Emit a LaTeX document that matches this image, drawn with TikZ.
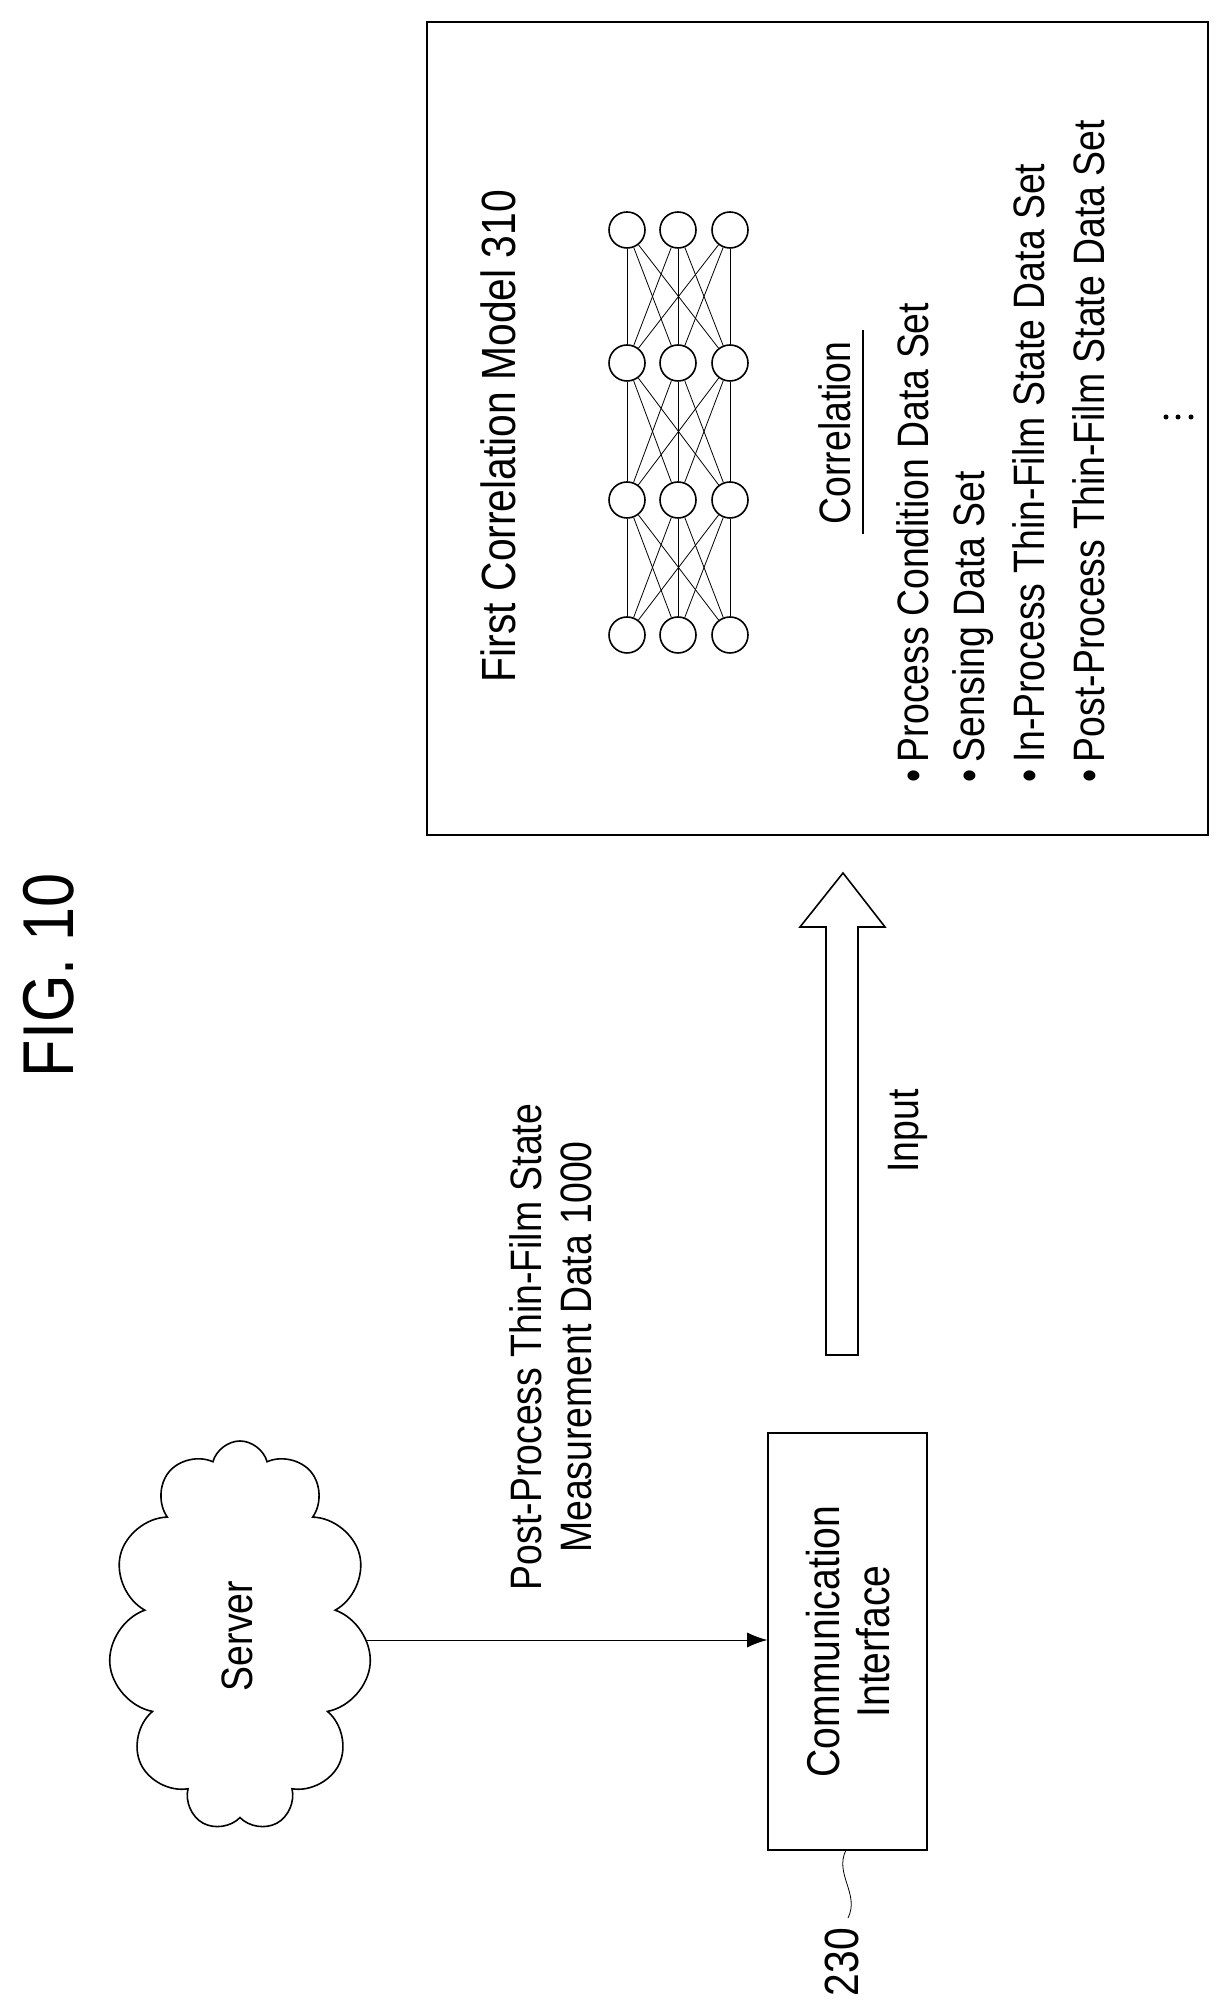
\documentclass[tikz,border=0pt]{standalone}
\usepackage{fontspec}
\setmainfont{Liberation Sans}[FakeStretch=0.85]
\usetikzlibrary{shapes.symbols,arrows.meta}
\tikzset{
  vtext/.style={rotate=90, inner sep=0pt, font=\fontsize{22}{25}\selectfont},
  unit/.style={circle, draw, thick, minimum size=18pt, inner sep=0pt},
  link/.style={thin}
}
\begin{document}
\begin{tikzpicture}[x=0.5pt,y=0.5pt]
    \useasboundingbox (0,0) rectangle (1231,2014);
    % model box
    \draw[thick] (427,1179) rectangle (1208,1992);
    \node[vtext, font=\fontsize{24}{28}\selectfont] (title) at (498,1578) {First Correlation Model 310};
    % network
    \foreach \c/\x in {1/627,2/678,3/730}
      \foreach \r/\y in {1/1784,2/1651,3/1514,4/1379}
        \node[unit] (n\c\r) at (\x,\y) {};
    \foreach \r/\s in {1/2,2/3,3/4}
      \foreach \a in {1,2,3}
        \foreach \b in {1,2,3}
          \draw[link] (n\a\r) -- (n\b\s);
    \node[vtext] (corr) at (835,1581) {Correlation};
    \draw[thick] (863,1480) -- (863,1684);
    \node[vtext, anchor=west] (l1) at (913,1231) {\textbullet\,Process Condition Data Set};
    \node[vtext, anchor=west] (l2) at (973,1231) {\textbullet\,Sensing Data Set};
    \node[vtext, anchor=west] (l3) at (1029,1231) {\textbullet\,In-Process Thin-Film State Data Set};
    \node[vtext, anchor=west] (l4) at (1089,1231) {\textbullet\,Post-Process Thin-Film State Data Set};
    \foreach \x in {1166,1178,1191}
      \fill (\x,1597) circle (2.5);
    % figure title
    \node[vtext, font=\fontsize{36}{40}\selectfont] (fig) at (49,1039) {FIG. 10};
    % input arrow
    \draw[thick] (826,659) -- (826,1087) -- (800,1087) -- (843,1141) -- (885,1087)
        -- (858,1087) -- (858,659) -- cycle;
    \node[vtext] (input) at (908,883) {Input};
    % server and interface
    \node[cloud, draw, thick, cloud puffs=11, aspect=0.65, minimum width=263pt*0.5, minimum height=390pt*0.5] (server) at (240,378) {};
    \node[vtext] (servertext) at (237,378) {Server};
    \node[draw, thick, minimum width=159pt*0.5, minimum height=417pt*0.5] (comm) at (847.5,372.5) {};
    \node[vtext, align=center, font=\fontsize{23}{25}\selectfont] (commtext) at (848,372.5) {Communication\\Interface};
    \draw[-{Latex[length=10pt]}] (server.east |- 0,374) -- (comm.west |- 0,374);
    \node[vtext, align=center] (data) at (551,667) {Post-Process Thin-Film State\\Measurement Data 1000};
    % reference numeral
    \node[vtext, font=\fontsize{24}{28}\selectfont] (ref) at (842,52) {230};
    \draw (846,164) .. controls (834,140) and (860,120) .. (848,96);
\end{tikzpicture}
\end{document}
